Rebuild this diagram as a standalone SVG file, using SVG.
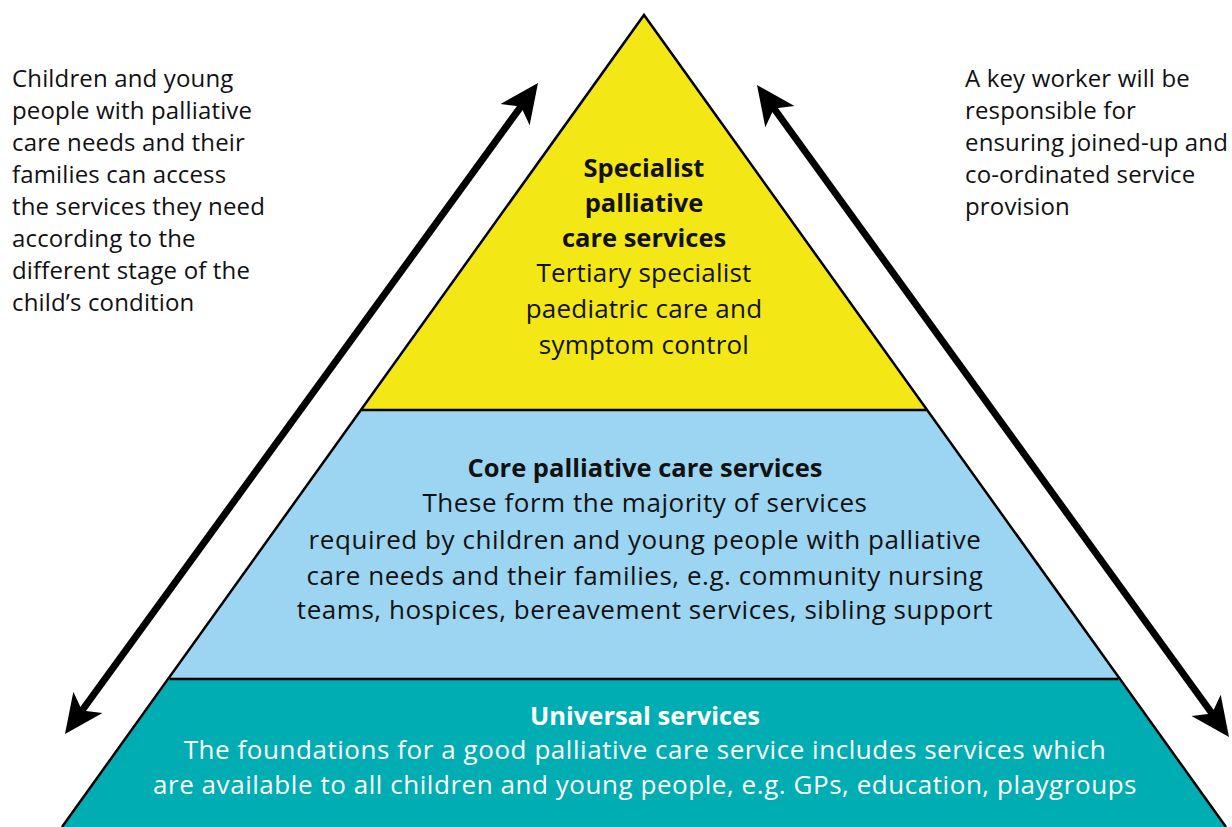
<svg xmlns="http://www.w3.org/2000/svg" width="1232" height="827" viewBox="0 0 1232 827">
<defs>
<style>
text{font-family:"Open Sans","Noto Sans","Liberation Sans",sans-serif;font-size:24px;fill:#111;letter-spacing:0.15px}
.c{text-anchor:middle}
.p{font-size:26px;letter-spacing:0.55px}
.y{font-size:26px;letter-spacing:0.2px}
.b{font-weight:bold;font-size:25.5px;letter-spacing:0px}
.w{fill:#ffffff}
.edge{stroke:#000;stroke-width:2.5;fill:none}
.arr{stroke:#000;stroke-width:7;fill:none}
</style>
<marker id="ah" viewBox="0 0 40 40" refX="28" refY="20" markerWidth="40" markerHeight="40" markerUnits="userSpaceOnUse" orient="auto-start-reverse">
<path d="M40,20 L1,2 L11,20 L1,38 Z" fill="#000"/>
</marker>
</defs>
<rect width="1232" height="827" fill="#fff"/>
<g id="tier-specialist">
<polygon points="644,15 361.4,410 926.6,410" fill="#f3e816"/>
<text class="c b" x="644" y="177">Specialist</text>
<text class="c b" x="644" y="212">palliative</text>
<text class="c b" x="644" y="247">care services</text>
<text class="c y" x="644" y="282">Tertiary specialist</text>
<text class="c y" x="644" y="318">paediatric care and</text>
<text class="c y" x="644" y="354">symptom control</text>
</g>
<g id="tier-core">
<polygon points="361.4,410 926.6,410 1118.4,679 169.6,679" fill="#9bd5f2"/>
<text class="c b" x="645" y="477">Core palliative care services</text>
<text class="c p" x="645" y="512">These form the majority of services</text>
<text class="c p" x="645" y="549">required by children and young people with palliative</text>
<text class="c p" x="645" y="585">care needs and their families, e.g. community nursing</text>
<text class="c p" x="645" y="619">teams, hospices, bereavement services, sibling support</text>
</g>
<g id="tier-universal">
<polygon points="169.6,679 1118.4,679 1226,827 62,827" fill="#00adb2"/>
<text class="c b w" x="645" y="725">Universal services</text>
<text class="c p w" x="645" y="759">The foundations for a good palliative care service includes services which</text>
<text class="c p w" x="645" y="794">are available to all children and young people, e.g. GPs, education, playgroups</text>
</g>
<g id="outline">
<path class="edge" d="M62,827 L644,15 L1226,827"/>
<line class="edge" x1="361.4" y1="410" x2="926.6" y2="410"/>
<line class="edge" x1="169.6" y1="679" x2="1118.4" y2="679"/>
</g>
<g id="note-left">
<text x="12" y="87">Children and young</text>
<text x="12" y="119">people with palliative</text>
<text x="12" y="151">care needs and their</text>
<text x="12" y="183">families can access</text>
<text x="12" y="215">the services they need</text>
<text x="12" y="247">according to the</text>
<text x="12" y="279">different stage of the</text>
<text x="12" y="311">child’s condition</text>
</g>
<g id="note-right">
<text x="965" y="87">A key worker will be</text>
<text x="965" y="119">responsible for</text>
<text x="965" y="151">ensuring joined-up and</text>
<text x="965" y="183">co-ordinated service</text>
<text x="965" y="215">provision</text>
</g>
<g id="connectors">
<line class="arr" x1="72.05" y1="724.29" x2="530.95" y2="92.71" marker-start="url(#ah)" marker-end="url(#ah)"/>
<line class="arr" x1="764.04" y1="94.72" x2="1221.96" y2="727.28" marker-start="url(#ah)" marker-end="url(#ah)"/>
</g>
</svg>
